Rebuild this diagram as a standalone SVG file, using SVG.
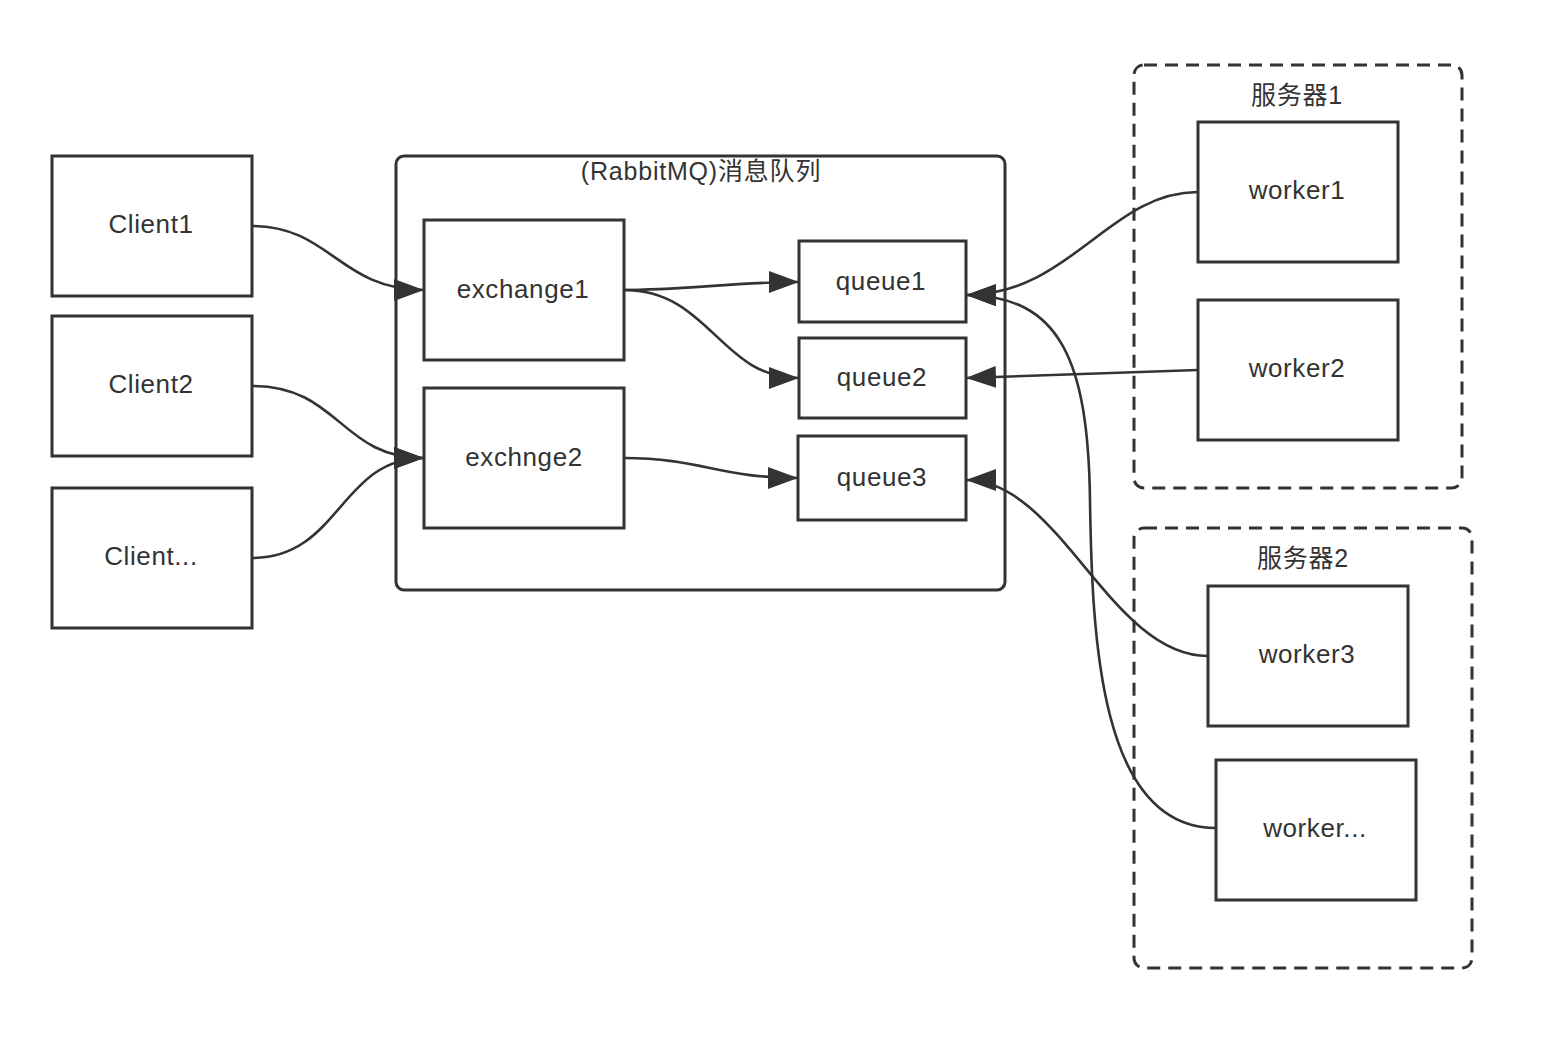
<svg xmlns="http://www.w3.org/2000/svg" width="1556" height="1048" viewBox="0 0 1556 1048">
<defs>
<style>
.box{fill:#fff;stroke:#333;stroke-width:3}
.grp{fill:none;stroke:#333;stroke-width:3}
.dash{fill:none;stroke:#333;stroke-width:3;stroke-dasharray:13 8}
.lbl{font-family:"Liberation Sans","Noto Sans CJK SC",sans-serif;font-size:26px;letter-spacing:0.6px;fill:#333;text-anchor:middle;dominant-baseline:central}
.ttl{font-family:"Liberation Sans","Noto Sans CJK SC",sans-serif;font-size:25px;letter-spacing:0.8px;fill:#333;text-anchor:middle;dominant-baseline:central}
.edge{fill:none;stroke:#333;stroke-width:2.6;marker-end:url(#arr)}
</style>
<marker id="arr" viewBox="0 0 30 22" refX="30" refY="11" markerWidth="30" markerHeight="22" markerUnits="userSpaceOnUse" orient="auto">
<path d="M0,0 L30,11 L0,22 Z" fill="#333"/>
</marker>
</defs>
<rect width="1556" height="1048" fill="#fff"/>

<g id="mq">
<rect class="grp" x="396" y="156" width="609" height="434" rx="8"/>
<text class="ttl" x="701" y="171">(RabbitMQ)消息队列</text>
</g>
<g id="server1">
<rect class="dash" x="1134" y="65" width="328" height="423" rx="10"/>
<text class="ttl" x="1297" y="95">服务器1</text>
</g>
<g id="server2">
<rect class="dash" x="1134" y="528" width="338" height="440" rx="10"/>
<text class="ttl" x="1303" y="558">服务器2</text>
</g>

<g id="client1"><rect class="box" x="52" y="156" width="200" height="140"/><text class="lbl" x="151" y="224">Client1</text></g>
<g id="client2"><rect class="box" x="52" y="316" width="200" height="140"/><text class="lbl" x="151" y="384">Client2</text></g>
<g id="client3"><rect class="box" x="52" y="488" width="200" height="140"/><text class="lbl" x="151" y="556">Client...</text></g>

<g id="exchange1"><rect class="box" x="424" y="220" width="200" height="140"/><text class="lbl" x="523" y="289">exchange1</text></g>
<g id="exchange2"><rect class="box" x="424" y="388" width="200" height="140"/><text class="lbl" x="524" y="457">exchnge2</text></g>

<g id="queue1"><rect class="box" x="799" y="241" width="167" height="81"/><text class="lbl" x="881" y="281">queue1</text></g>
<g id="queue2"><rect class="box" x="799" y="338" width="167" height="80"/><text class="lbl" x="882" y="377">queue2</text></g>
<g id="queue3"><rect class="box" x="798" y="436" width="168" height="84"/><text class="lbl" x="882" y="477">queue3</text></g>

<g id="worker1"><rect class="box" x="1198" y="122" width="200" height="140"/><text class="lbl" x="1297" y="190">worker1</text></g>
<g id="worker2"><rect class="box" x="1198" y="300" width="200" height="140"/><text class="lbl" x="1297" y="368">worker2</text></g>
<g id="worker3"><rect class="box" x="1208" y="586" width="200" height="140"/><text class="lbl" x="1307" y="654">worker3</text></g>
<g id="worker4"><rect class="box" x="1216" y="760" width="200" height="140"/><text class="lbl" x="1315" y="828">worker...</text></g>

<g id="connectors">
<path class="edge" d="M252,226 C330,226 340,290 424,290"/>
<path class="edge" d="M252,386 C340,386 340,458 424,458"/>
<path class="edge" d="M252,558 C340,558 340,458 424,458"/>
<path class="edge" d="M624,290 C680,290 740,282 799,282"/>
<path class="edge" d="M624,290 C710,290 720,378 799,378"/>
<path class="edge" d="M624,458 C700,458 720,478 798,478"/>
<path class="edge" d="M1198,192 C1110,192 1070,295 966,295"/>
<path class="edge" d="M1198,370 L966,378"/>
<path class="edge" d="M1208,656 C1110,656 1060,480 966,480"/>
<path class="edge" d="M1216,828 C1100,828 1092,640 1090,500 C1088,360 1060,296 966,295"/>
</g>
</svg>
